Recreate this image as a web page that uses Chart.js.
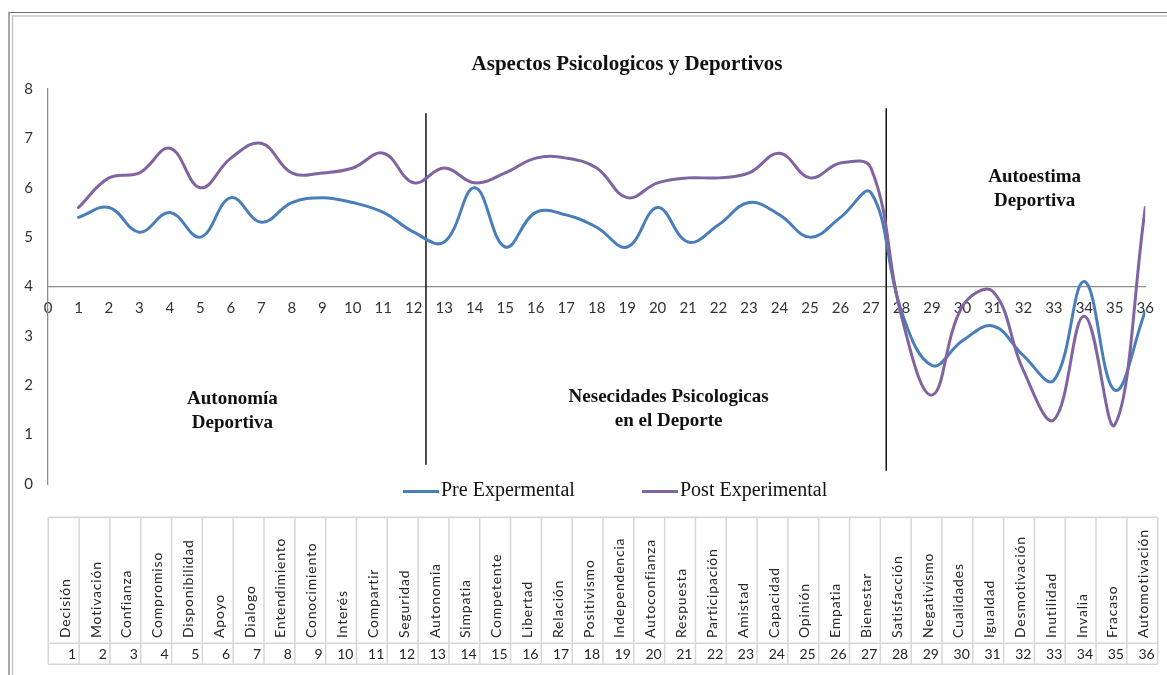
<!DOCTYPE html>
<html>
<head>
<meta charset="utf-8">
<title>Aspectos Psicologicos y Deportivos</title>
<script src="https://cdn.jsdelivr.net/npm/chart.js@4.4.1/dist/chart.umd.min.js"></script>
<style>
  html, body { margin: 0; padding: 0; background: #ffffff; }
  #wrap { width: 1167px; height: 675px; position: relative; }
  canvas { display: block; }
</style>
</head>
<body>
<div id="wrap"><canvas id="chart" width="1167" height="675"></canvas></div>
<script>
// ---- data -------------------------------------------------------------
const chartTitle = 'Aspectos Psicologicos y Deportivos';

const itemNumbers = [1, 2, 3, 4, 5, 6, 7, 8, 9, 10, 11, 12, 13, 14, 15, 16, 17, 18,
                     19, 20, 21, 22, 23, 24, 25, 26, 27, 28, 29, 30, 31, 32, 33, 34, 35, 36];

const itemNames = ['Decisión', 'Motivación', 'Confianza', 'Compromiso', 'Disponibilidad', 'Apoyo',
  'Dialogo', 'Entendimiento', 'Conocimiento', 'Interés', 'Compartir', 'Seguridad',
  'Autonomia', 'Simpatia', 'Competente', 'Libertad', 'Relación', 'Positivismo',
  'Independencia', 'Autoconfianza', 'Respuesta', 'Participación', 'Amistad', 'Capacidad',
  'Opinión', 'Empatia', 'Bienestar', 'Satisfacción', 'Negativismo', 'Cualidades',
  'Igualdad', 'Desmotivación', 'Inutilidad', 'Invalia', 'Fracaso', 'Automotivación'];

const preExperimental = [5.4, 5.6, 5.1, 5.5, 5.0, 5.8, 5.3, 5.7, 5.8, 5.7, 5.5, 5.1,
                         4.9, 6.0, 4.8, 5.5, 5.45, 5.2, 4.8, 5.6, 4.9, 5.25, 5.7, 5.45,
                         5.0, 5.4, 5.9, 3.5, 2.4, 2.9, 3.2, 2.6, 2.1, 4.1, 1.9, 3.5];

const postExperimental = [5.6, 6.2, 6.3, 6.8, 6.0, 6.6, 6.9, 6.3, 6.3, 6.4, 6.7, 6.1,
                          6.4, 6.1, 6.3, 6.6, 6.6, 6.4, 5.8, 6.1, 6.2, 6.2, 6.3, 6.7,
                          6.2, 6.5, 6.4, 3.4, 1.8, 3.6, 3.9, 2.3, 1.3, 3.4, 1.2, 5.6];

const seriesNames = ['Pre Expermental', 'Post Experimental'];

// section boundaries between the three groups of items
const sectionBreaks = [12.4, 27.5];
const sectionBreakSpans = [[0.4, 7.5], [0.28, 7.6]];

const sectionCaptions = [
  { lines: ['Autonomía', 'Deportiva'], x: 6.05, y: 1.62 },
  { lines: ['Nesecidades Psicologicas', 'en el Deporte'], x: 20.36, y: 1.66 },
  { lines: ['Autoestima', 'Deportiva'], x: 32.37, y: 6.12 }
];

// ---- styling ----------------------------------------------------------
const BLUE = '#4a7ebb';
const PURPLE = '#8064a2';
const AXIS = '#8c8c8c';
const TICK_TEXT = '#333333';

const toPoints = (values) => itemNumbers.map((n, i) => ({ x: n, y: values[i] }));

const dividerSets = sectionBreaks.map((at, i) => ({
  label: 'divider',
  data: [{ x: at, y: sectionBreakSpans[i][0] }, { x: at, y: sectionBreakSpans[i][1] }],
  borderColor: '#111111',
  borderWidth: 1.5,
  tension: 0,
  pointRadius: 0,
  order: 5
}));

// Sheet frame, title, captions, legend and item table
const decorations = {
  id: 'decorations',
  beforeDraw(chart) {
    const ctx = chart.ctx;
    ctx.save();
    ctx.fillStyle = '#ffffff';
    ctx.fillRect(0, 0, chart.width, chart.height);
    ctx.strokeStyle = '#6e6e6e';
    ctx.lineWidth = 1.2;
    ctx.beginPath();
    ctx.moveTo(9, chart.height); ctx.lineTo(9, 12.5); ctx.lineTo(chart.width, 12.5);
    ctx.stroke();
    ctx.strokeStyle = '#c6c6c6';
    ctx.lineWidth = 1.5;
    ctx.beginPath();
    ctx.moveTo(12.5, chart.height); ctx.lineTo(12.5, 16); ctx.lineTo(chart.width, 16);
    ctx.stroke();
    ctx.restore();
  },
  afterDraw(chart) {
    const ctx = chart.ctx;
    const xs = chart.scales.x;
    const ys = chart.scales.y;
    ctx.save();

    // title
    ctx.fillStyle = '#111111';
    ctx.textAlign = 'center';
    ctx.textBaseline = 'alphabetic';
    ctx.font = 'bold 21px "Liberation Serif"';
    ctx.fillText(chartTitle, 627, 70);

    // section captions
    ctx.font = 'bold 19px "Liberation Serif"';
    sectionCaptions.forEach(c => {
      const px = xs.getPixelForValue(c.x);
      const py = ys.getPixelForValue(c.y);
      c.lines.forEach((ln, k) => ctx.fillText(ln, px, py + k * 24));
    });

    // legend
    const legendY = 490;
    const legendItems = [
      { x: 403, ds: chart.data.datasets[0] },
      { x: 642, ds: chart.data.datasets[1] }
    ];
    ctx.font = '20px "Liberation Serif"';
    ctx.textAlign = 'left';
    legendItems.forEach(item => {
      ctx.strokeStyle = item.ds.borderColor;
      ctx.lineWidth = 3;
      ctx.beginPath();
      ctx.moveTo(item.x, legendY + 1.5);
      ctx.lineTo(item.x + 36, legendY + 1.5);
      ctx.stroke();
      ctx.fillStyle = '#111111';
      ctx.fillText(item.ds.label, item.x + 38, legendY + 6);
    });

    // item table
    const left = 48.3, right = 1157.7;
    const top = 517.3, mid = 643.3, bottom = 664.3;
    const colW = (right - left) / itemNames.length;
    ctx.strokeStyle = '#d6d6d6';
    ctx.lineWidth = 1.5;
    ctx.beginPath();
    [top, mid, bottom].forEach(y => { ctx.moveTo(left, y); ctx.lineTo(right, y); });
    for (let i = 0; i <= itemNames.length; i++) {
      const x = left + i * colW;
      ctx.moveTo(x, top); ctx.lineTo(x, bottom);
    }
    ctx.stroke();

    ctx.fillStyle = '#262626';
    itemNames.forEach((name, i) => {
      const cx = left + (i + 0.5) * colW;
      ctx.save();
      ctx.translate(cx + 1.5, 638);
      ctx.rotate(-Math.PI / 2);
      ctx.font = '14px Lato';
      ctx.letterSpacing = '0.8px';
      ctx.textAlign = 'left';
      ctx.textBaseline = 'middle';
      ctx.fillText(name, 0, 0);
      ctx.restore();
      ctx.font = '14px Lato';
      ctx.textAlign = 'right';
      ctx.textBaseline = 'middle';
      ctx.fillText(String(itemNumbers[i]), left + (i + 1) * colW - 3, 654);
    });

    ctx.restore();
  }
};

new Chart(document.getElementById('chart'), {
  type: 'line',
  data: {
    datasets: [
      { label: seriesNames[0], data: toPoints(preExperimental), borderColor: BLUE, order: 2 },
      { label: seriesNames[1], data: toPoints(postExperimental), borderColor: PURPLE, order: 1 },
      ...dividerSets
    ]
  },
  options: {
    responsive: false,
    animation: false,
    devicePixelRatio: 1,
    layout: { padding: { left: 0, top: 89, right: 19, bottom: 191 } },
    plugins: {
      legend: { display: false },
      title: { display: false },
      tooltip: { enabled: false }
    },
    elements: {
      point: { radius: 0 },
      line: { tension: 0.4, borderWidth: 3, fill: false, borderCapStyle: 'round' }
    },
    scales: {
      x: {
        type: 'linear',
        min: 0,
        max: 36,
        position: { y: 4 },
        grid: { display: false, drawTicks: false },
        border: { display: true, color: AXIS, width: 1.3 },
        ticks: {
          stepSize: 1, autoSkip: false, maxRotation: 0, padding: 13,
          color: TICK_TEXT, font: { family: 'Lato', size: 15 }
        },
        afterFit: (s) => { s.height = 0; }
      },
      y: {
        min: 0,
        max: 8,
        position: 'left',
        grid: { display: false, drawTicks: false },
        border: { display: true, color: AXIS, width: 1.3 },
        ticks: {
          stepSize: 1, padding: 15,
          color: TICK_TEXT, font: { family: 'Lato', size: 15 }
        },
        afterFit: (s) => { s.width = 48; }
      }
    }
  },
  plugins: [decorations]
});
</script>
</body>
</html>
